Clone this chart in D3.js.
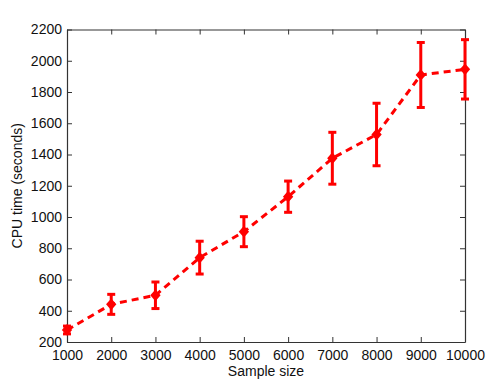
<!DOCTYPE html>
<html>
<head>
<meta charset="utf-8">
<script src="https://cdn.jsdelivr.net/npm/d3@7"></script>
<style>
html,body{margin:0;padding:0;background:#fff;}
svg text{font-family:"Liberation Sans",Arial,Helvetica,sans-serif;}
</style>
</head>
<body>
<svg id="chart" width="498" height="385"></svg>
<script>
const sampleSizes = [1000, 2000, 3000, 4000, 5000, 6000, 7000, 8000, 9000, 10000];
const cpuTime     = [277, 441, 499, 740, 906, 1130, 1376, 1528, 1909, 1945];
const cpuError    = [25, 64, 85, 105, 96, 100, 166, 200, 208, 190];
const xTicks = [1000, 2000, 3000, 4000, 5000, 6000, 7000, 8000, 9000, 10000];
const yTicks = [200, 400, 600, 800, 1000, 1200, 1400, 1600, 1800, 2000, 2200];

const W = 498, H = 385;
const m = {left: 67, right: 33, top: 29.5, bottom: 43};
const svg = d3.select("#chart");
const x = d3.scaleLinear().domain([1000, 10000]).range([m.left, W - m.right]);
const y = d3.scaleLinear().domain([200, 2200]).range([H - m.bottom, m.top]);

const axisColor = "#333";
const tl = 5;
const fs = "14px";

// Axes
const gx = svg.append("g").attr("transform", `translate(0,${y(200)})`)
  .call(d3.axisBottom(x).tickValues(xTicks).tickSizeInner(-tl).tickSizeOuter(0).tickPadding(7.5).tickFormat(d3.format("d")));
const gxt = svg.append("g").attr("transform", `translate(0,${y(2200)})`)
  .call(d3.axisTop(x).tickValues(xTicks).tickSizeInner(-tl).tickSizeOuter(0).tickFormat(""));
const gy = svg.append("g").attr("transform", `translate(${x(1000)},0)`)
  .call(d3.axisLeft(y).tickValues(yTicks).tickSizeInner(-tl).tickSizeOuter(0).tickPadding(5).tickFormat(d3.format("d")));
const gyr = svg.append("g").attr("transform", `translate(${x(10000)},0)`)
  .call(d3.axisRight(y).tickValues(yTicks).tickSizeInner(-tl).tickSizeOuter(0).tickFormat(""));

[gx, gxt, gy, gyr].forEach(g => {
  g.selectAll("path.domain").attr("stroke", axisColor).attr("stroke-width", 1.2);
  g.selectAll(".tick line").attr("stroke", axisColor).attr("stroke-width", 1);
  g.selectAll(".tick text").attr("fill", "#111").style("font-size", fs)
    .style("font-family", '"Liberation Sans",Arial,sans-serif');
});
gx.selectAll(".tick text").attr("dy", "0.75em");

// Labels
svg.append("text").attr("x", (x(1000) + x(10000)) / 2).attr("y", 375.5)
  .attr("text-anchor", "middle").style("font-size", fs).attr("fill", "#111").text("Sample size");
svg.append("text").attr("transform", `translate(22,${(y(200) + y(2200)) / 2}) rotate(-90)`)
  .attr("text-anchor", "middle").style("font-size", fs).attr("fill", "#111").text("CPU time (seconds)");

const data = sampleSizes.map((s, i) => ({s, v: cpuTime[i], e: cpuError[i]}));
const red = "#ff0000";

// Error bars
const eb = svg.append("g").attr("stroke", red).attr("stroke-width", 3).attr("fill", "none");
data.forEach(d => {
  const cx = x(d.s), cap = 4;
  eb.append("line").attr("x1", cx).attr("x2", cx).attr("y1", y(d.v - d.e)).attr("y2", y(d.v + d.e));
  eb.append("line").attr("x1", cx - cap).attr("x2", cx + cap).attr("y1", y(d.v + d.e)).attr("y2", y(d.v + d.e));
  eb.append("line").attr("x1", cx - cap).attr("x2", cx + cap).attr("y1", y(d.v - d.e)).attr("y2", y(d.v - d.e));
});

// Dashed line
svg.append("path").datum(data)
  .attr("d", d3.line().x(d => x(d.s)).y(d => y(d.v)))
  .attr("fill", "none").attr("stroke", red).attr("stroke-width", 3)
  .attr("stroke-dasharray", "7,5");

// Diamond markers
const r = 3.5;
svg.append("g").selectAll("path").data(data).join("path")
  .attr("d", d => { const cx = x(d.s), cy = y(d.v);
    return `M${cx},${cy - r - 0.5}L${cx + r},${cy}L${cx},${cy + r + 0.5}L${cx - r},${cy}Z`; })
  .attr("fill", red).attr("stroke", red).attr("stroke-width", 2.5);
</script>
</body>
</html>
